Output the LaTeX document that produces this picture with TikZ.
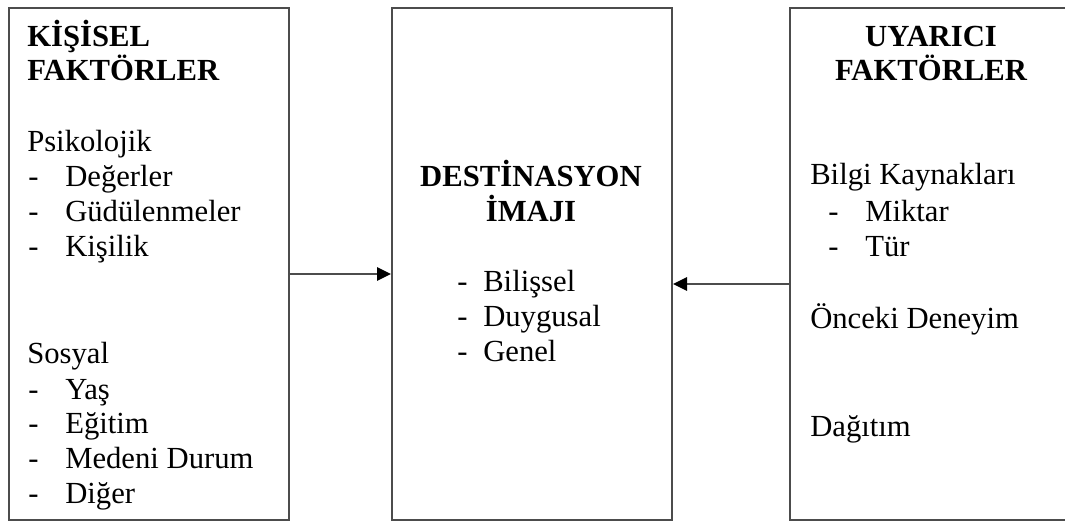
\documentclass[tikz,border=0pt]{standalone}
\usepackage{fontspec}
\setmainfont{Liberation Serif}
\usetikzlibrary{arrows.meta}
\tikzset{
  factorbox/.style={draw=black!70, line width=1.5pt, rectangle, inner sep=0pt,
    minimum height=384pt},
  txt/.style={anchor=base west, inner sep=0pt, font=\fontsize{23}{26}\selectfont},
  head/.style={anchor=base, inner sep=0pt, font=\fontsize{23}{26}\selectfont\bfseries},
  arr/.style={draw=black!70, line width=1.5pt, -{Triangle[length=10.5pt,width=10pt,black]}}
}
\begin{document}
\begin{tikzpicture}[x=0.75pt,y=-0.75pt]  % coordinates in pixels, y down
\useasboundingbox (0,0) rectangle (1065,523);
\clip (0,0) rectangle (1065,523);

% the three boxes
\node[factorbox, minimum width=210pt] (kisisel) at (149,264) {};
\node[factorbox, minimum width=210pt] (destinasyon) at (532,264) {};
\node[factorbox, minimum width=217.5pt] (uyarici) at (935,264) {};

% left box
\node[txt,font=\fontsize{23}{26}\selectfont\bfseries] (k1) at (27,47) {KİŞİSEL};
\node[txt,font=\fontsize{23}{26}\selectfont\bfseries] (k2) at (27,81) {FAKTÖRLER};
\node[txt] (psi) at (27,152) {Psikolojik};
\node[txt] (d1) at (28,187) {-};  \node[txt] (psi1) at (65,187) {Değerler};
\node[txt] (d2) at (28,222) {-};  \node[txt] (psi2) at (65,222) {Güdülenmeler};
\node[txt] (d3) at (28,257) {-};  \node[txt] (psi3) at (65,257) {Kişilik};
\node[txt] (sos) at (27,364) {Sosyal};
\node[txt] (d4) at (28,400) {-};  \node[txt] (sos1) at (65,400) {Yaş};
\node[txt] (d5) at (28,434) {-};  \node[txt] (sos2) at (65,434) {Eğitim};
\node[txt] (d6) at (28,469) {-};  \node[txt] (sos3) at (65,469) {Medeni Durum};
\node[txt] (d7) at (28,504) {-};  \node[txt] (sos4) at (65,504) {Diğer};

% middle box
\node[head] (m1) at (531,187) {DESTİNASYON};
\node[head] (m2) at (531,222) {İMAJI};
\node[txt] (d8) at (457,292) {-};   \node[txt] (im1) at (483,292) {Bilişsel};
\node[txt] (d9) at (457,327) {-};   \node[txt] (im2) at (483,327) {Duygusal};
\node[txt] (d10) at (457,362) {-};  \node[txt] (im3) at (483,362) {Genel};

% right box
\node[head] (u1) at (931,47) {UYARICI};
\node[head] (u2) at (931,81) {FAKTÖRLER};
\node[txt] (bil) at (810,185) {Bilgi Kaynakları};
\node[txt] (d11) at (828,222) {-};  \node[txt] (bil1) at (865,222) {Miktar};
\node[txt] (d12) at (828,257) {-};  \node[txt] (bil2) at (865,257) {Tür};
\node[txt] (onc) at (810,329) {Önceki Deneyim};
\node[txt] (dag) at (810,437) {Dağıtım};

% arrows
\draw[arr] ([yshift=-7.5pt]kisisel.east) -- ([yshift=-7.5pt]destinasyon.west);
\draw[arr] ([yshift=-15pt]uyarici.west) -- ([yshift=-15pt]destinasyon.east);

\end{tikzpicture}
\end{document}
